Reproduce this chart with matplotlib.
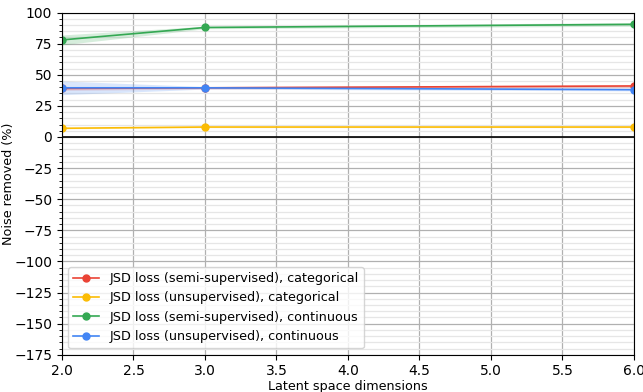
import matplotlib
matplotlib.use("Agg")
import matplotlib.pyplot as plt
from matplotlib.ticker import MultipleLocator

dims = [2, 3, 6]

semi_cat = [39.0, 39.5, 41.0]
semi_cat_lo = [37.5, 38.5, 39.5]
semi_cat_hi = [40.5, 40.5, 42.0]

unsup_cat = [7.0, 8.0, 8.0]
unsup_cat_lo = [6.5, 7.5, 7.5]
unsup_cat_hi = [7.5, 8.5, 8.5]

semi_cont = [78.0, 88.0, 90.5]
semi_cont_lo = [74.0, 87.0, 89.0]
semi_cont_hi = [82.0, 89.0, 92.0]

unsup_cont = [39.5, 39.5, 38.0]
unsup_cont_lo = [34.0, 38.5, 37.0]
unsup_cont_hi = [45.0, 40.5, 39.0]

labels = ["JSD loss (semi-supervised), categorical",
          "JSD loss (unsupervised), categorical",
          "JSD loss (semi-supervised), continuous",
          "JSD loss (unsupervised), continuous"]
colors = ["#EA4335", "#FBBC05", "#34A853", "#4285F4"]

fig, ax = plt.subplots(figsize=(6.43, 3.92), dpi=100)
fig.subplots_adjust(left=0.0964, right=0.986, top=0.968, bottom=0.095)

series = [(semi_cat, semi_cat_lo, semi_cat_hi),
          (unsup_cat, unsup_cat_lo, unsup_cat_hi),
          (semi_cont, semi_cont_lo, semi_cont_hi),
          (unsup_cont, unsup_cont_lo, unsup_cont_hi)]
for (y, lo, hi), lab, c in zip(series, labels, colors):
    ax.plot(dims, y, marker="o", ms=5, lw=1.2, color=c, label=lab)
    ax.fill_between(dims, lo, hi, color=c, alpha=0.2, lw=0)

ax.axhline(0, color="black", lw=1.2)
ax.set_xlim(2, 6)
ax.set_ylim(-175, 100)
ax.yaxis.set_major_locator(MultipleLocator(25))
ax.yaxis.set_minor_locator(MultipleLocator(5))
ax.xaxis.set_major_locator(MultipleLocator(0.5))
ax.grid(which="major", color="#b0b0b0", lw=0.9)
ax.grid(which="minor", axis="y", color="#e6e6e6", lw=0.9)
ax.set_axisbelow(True)
ax.set_xlabel("Latent space dimensions", fontsize=9.2, labelpad=1)
ax.set_ylabel("Noise removed (%)", fontsize=9.2)
ax.yaxis.set_label_coords(-0.083, 0.5)
ax.tick_params(labelsize=10)
ax.legend(loc="lower left", fontsize=9.2, framealpha=0.8)

plt.savefig("out.png", dpi=100)
